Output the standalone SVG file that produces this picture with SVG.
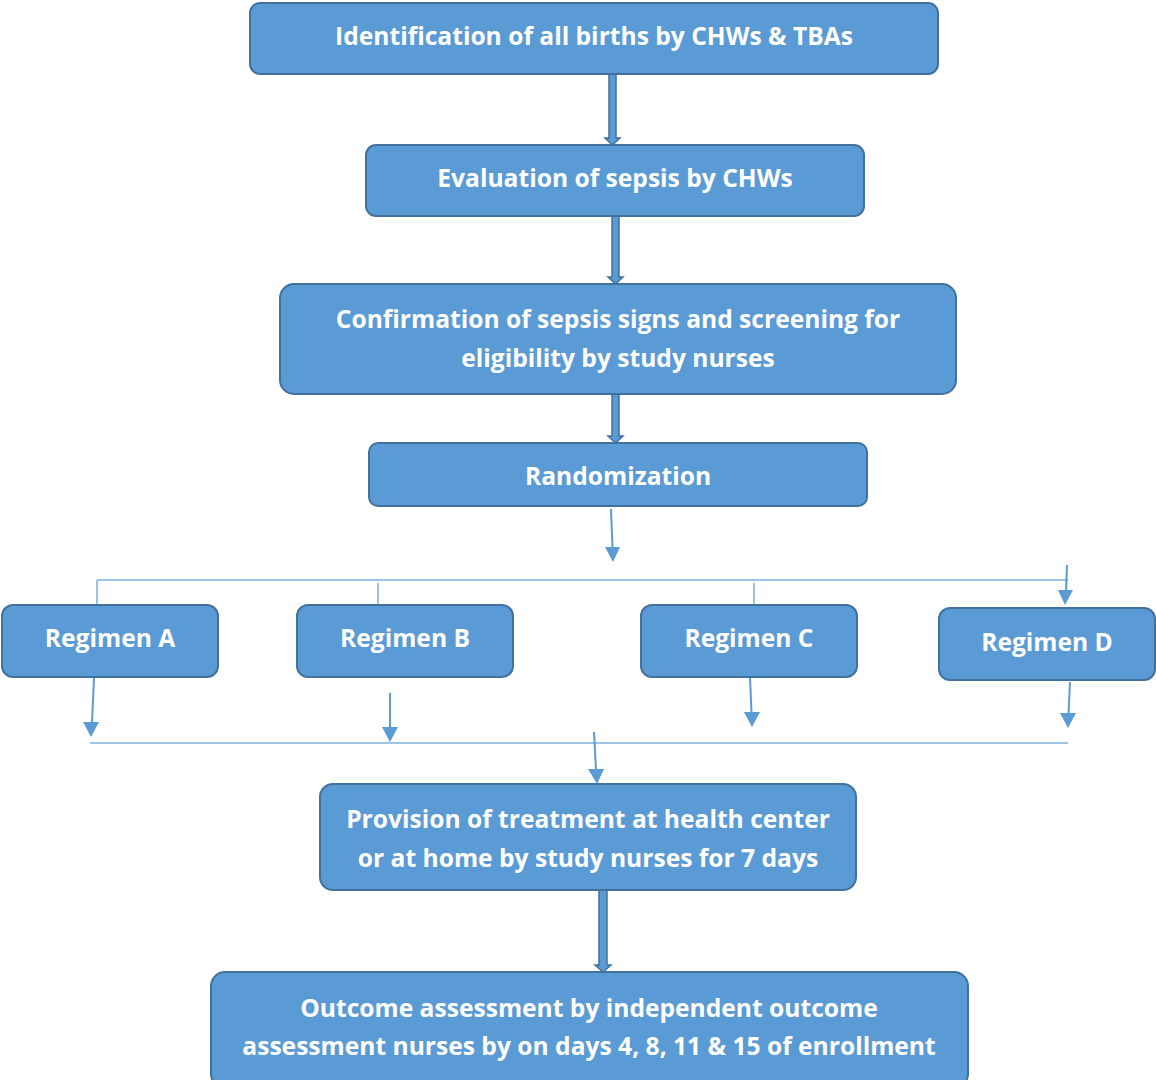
<svg xmlns="http://www.w3.org/2000/svg" width="1156" height="1080" viewBox="0 0 1156 1080">
<defs>
<style>
.box{fill:#5B9BD5;stroke:#41719C;stroke-width:2}
.t{fill:#fff;font-family:"Open Sans","Noto Sans","Liberation Sans",sans-serif;font-weight:bold;font-size:24.6px;text-anchor:middle;dominant-baseline:central}
.blk{fill:#5B9BD5;stroke:#41719C;stroke-width:1.5}
.thin{stroke:#5B9BD5;stroke-width:2;fill:none}
.hl{stroke:#7EB1E0;stroke-width:1.5;fill:none}
.head{fill:#5B9BD5}
</style>
</defs>
<rect width="1156" height="1080" fill="#fff"/>
<g id="connectors">
<path class="blk" d="M609,74 L616,74 L616,138 L620,138 L612.5,145 L605,138 L609,138 Z"/>
<path class="blk" d="M612,216 L619,216 L619,277 L623,277 L615.5,284 L608,277 L612,277 Z"/>
<path class="blk" d="M612,394 L619,394 L619,436 L623,436 L615.5,443 L608,436 L612,436 Z"/>
<path class="blk" d="M599,890 L607,890 L607,965 L611,965 L603,972 L595,965 L599,965 Z"/>
<line class="thin" x1="611" y1="509" x2="612.5" y2="548"/>
<polygon class="head" points="605,547 620,547 613,562"/>
<line class="hl" x1="97" y1="580" x2="1068" y2="580"/>
<line class="hl" x1="97" y1="580" x2="97" y2="605"/>
<line class="hl" x1="378" y1="583" x2="378" y2="605"/>
<line class="hl" x1="754" y1="583" x2="754" y2="605"/>
<line class="thin" x1="1067" y1="565" x2="1066" y2="591"/>
<polygon class="head" points="1058,590 1073,590 1065,605"/>
<line class="thin" x1="94" y1="678" x2="92" y2="723"/>
<polygon class="head" points="83,722 99,722 91,737"/>
<line class="thin" x1="390" y1="693" x2="390" y2="728"/>
<polygon class="head" points="382,727 398,727 390,742"/>
<line class="thin" x1="750" y1="677" x2="751.5" y2="713"/>
<polygon class="head" points="744,712 760,712 752,727"/>
<line class="thin" x1="1070" y1="682" x2="1068.5" y2="714"/>
<polygon class="head" points="1060,713 1076,713 1068,728"/>
<line class="hl" x1="90" y1="743" x2="1068" y2="743"/>
<line class="thin" x1="594" y1="732" x2="596" y2="770"/>
<polygon class="head" points="588,769 604,769 597,784"/>
</g>
<g id="n1"><rect class="box" x="250" y="3" width="688" height="71" rx="10"/><text class="t" x="594" y="35">Identification of all births by CHWs &amp; TBAs</text></g>
<g id="n2"><rect class="box" x="366" y="145" width="498" height="71" rx="10"/><text class="t" x="615" y="177">Evaluation of sepsis by CHWs</text></g>
<g id="n3"><rect class="box" x="280" y="284" width="676" height="110" rx="14"/><text class="t" x="618" y="318">Confirmation of sepsis signs and screening for</text><text class="t" x="618" y="357">eligibility by study nurses</text></g>
<g id="n4"><rect class="box" x="369" y="443" width="498" height="63" rx="9"/><text class="t" x="618" y="475">Randomization</text></g>
<g id="rA"><rect class="box" x="2" y="605" width="216" height="72" rx="11"/><text class="t" x="110" y="637">Regimen A</text></g>
<g id="rB"><rect class="box" x="297" y="605" width="216" height="72" rx="11"/><text class="t" x="405" y="637">Regimen B</text></g>
<g id="rC"><rect class="box" x="641" y="605" width="216" height="72" rx="11"/><text class="t" x="749" y="637">Regimen C</text></g>
<g id="rD"><rect class="box" x="939" y="608" width="216" height="72" rx="11"/><text class="t" x="1047" y="641">Regimen D</text></g>
<g id="n5"><rect class="box" x="320" y="784" width="536" height="106" rx="13"/><text class="t" x="588" y="818">Provision of treatment at health center</text><text class="t" x="588" y="857">or at home by study nurses for 7 days</text></g>
<g id="n6"><rect class="box" x="211" y="972" width="757" height="116" rx="14"/><text class="t" x="589" y="1007">Outcome assessment by independent outcome</text><text class="t" x="589" y="1045">assessment nurses by on days 4, 8, 11 &amp; 15 of enrollment</text></g>
</svg>
